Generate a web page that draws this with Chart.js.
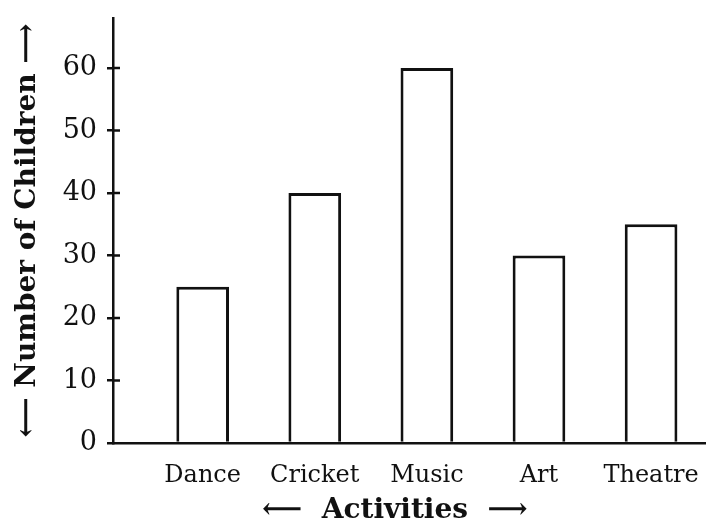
<!DOCTYPE html>
<html>
<head>
<meta charset="UTF-8">
<title>Activities</title>
<script src="https://cdn.jsdelivr.net/npm/chart.js@4.4.0/dist/chart.umd.min.js"></script>
<style>
  html, body { margin: 0; padding: 0; background: #fff; }
  #wrap { width: 706px; height: 528px; }
</style>
</head>
<body>
<div id="wrap"><canvas id="chart"></canvas></div>
<script>
const categories = ['Dance', 'Cricket', 'Music', 'Art', 'Theatre'];
const children = [25, 40, 60, 30, 35];
const yTickValues = [0, 10, 20, 30, 40, 50, 60];

const ink = '#111';
const serif = "'DejaVu Serif', serif";

// short tick stubs on the inner side of the y axis
const innerTicks = {
  id: 'innerTicks',
  afterDraw(chart) {
    const y = chart.scales.y, ctx = chart.ctx, x0 = chart.chartArea.left;
    ctx.save();
    ctx.strokeStyle = ink;
    ctx.lineWidth = 2.5;
    yTickValues.slice(1).forEach(v => {
      const py = y.getPixelForValue(v);
      ctx.beginPath();
      ctx.moveTo(x0, py);
      ctx.lineTo(x0 + 7, py);
      ctx.stroke();
    });
    ctx.restore();
  }
};

new Chart(document.getElementById('chart'), {
  type: 'bar',
  data: {
    datasets: [{
      data: children.map((v, i) => ({ x: i, y: v })),
      backgroundColor: '#fff',
      borderColor: ink,
      borderWidth: 3,
      categoryPercentage: 1,
      barPercentage: 0.47
    }]
  },
  options: {
    responsive: true,
    maintainAspectRatio: false,
    animation: false,
    layout: { padding: { left: 0, top: 18, right: 0, bottom: 0 } },
    plugins: { legend: { display: false }, tooltip: { enabled: false } },
    scales: {
      x: {
        type: 'linear',
        offset: false,
        min: -0.8,
        max: 4.49,
        afterBuildTicks: s => { s.ticks = categories.map((c, i) => ({ value: i })); },
        afterFit: s => { s.height = 85; s.paddingLeft = 0; s.paddingRight = 0; },
        grid: { display: false, drawTicks: false },
        border: { display: true, color: ink, width: 2.5 },
        ticks: {
          callback: v => categories[v],
          color: ink,
          padding: 18,
          maxRotation: 0,
          font: { family: serif, size: 24 }
        },
        title: {
          display: true,
          text: '⟵  Activities  ⟶\u00a0\u00a0\u00a0',
          color: ink,
          padding: { top: 0, bottom: 0 },
          font: { family: serif, size: 28, weight: 'bold' }
        }
      },
      y: {
        min: 0,
        max: 68,
        afterBuildTicks: s => { s.ticks = yTickValues.map(v => ({ value: v })); },
        afterFit: s => { s.width = 113; s.paddingTop = 0; s.paddingBottom = 0; },
        grid: { drawOnChartArea: false, drawTicks: true, tickLength: 6, color: ink, lineWidth: 2.5 },
        border: { display: true, color: ink, width: 2.5 },
        ticks: {
          color: ink,
          padding: 10,
          font: { family: serif, size: 27 }
        },
        title: {
          display: true,
          text: '⟵ Number of Children ⟶',
          color: ink,
          padding: { top: 11, bottom: 0 },
          font: { family: serif, size: 28, weight: 'bold' }
        }
      }
    }
  },
  plugins: [innerTicks]
});
</script>
</body>
</html>
